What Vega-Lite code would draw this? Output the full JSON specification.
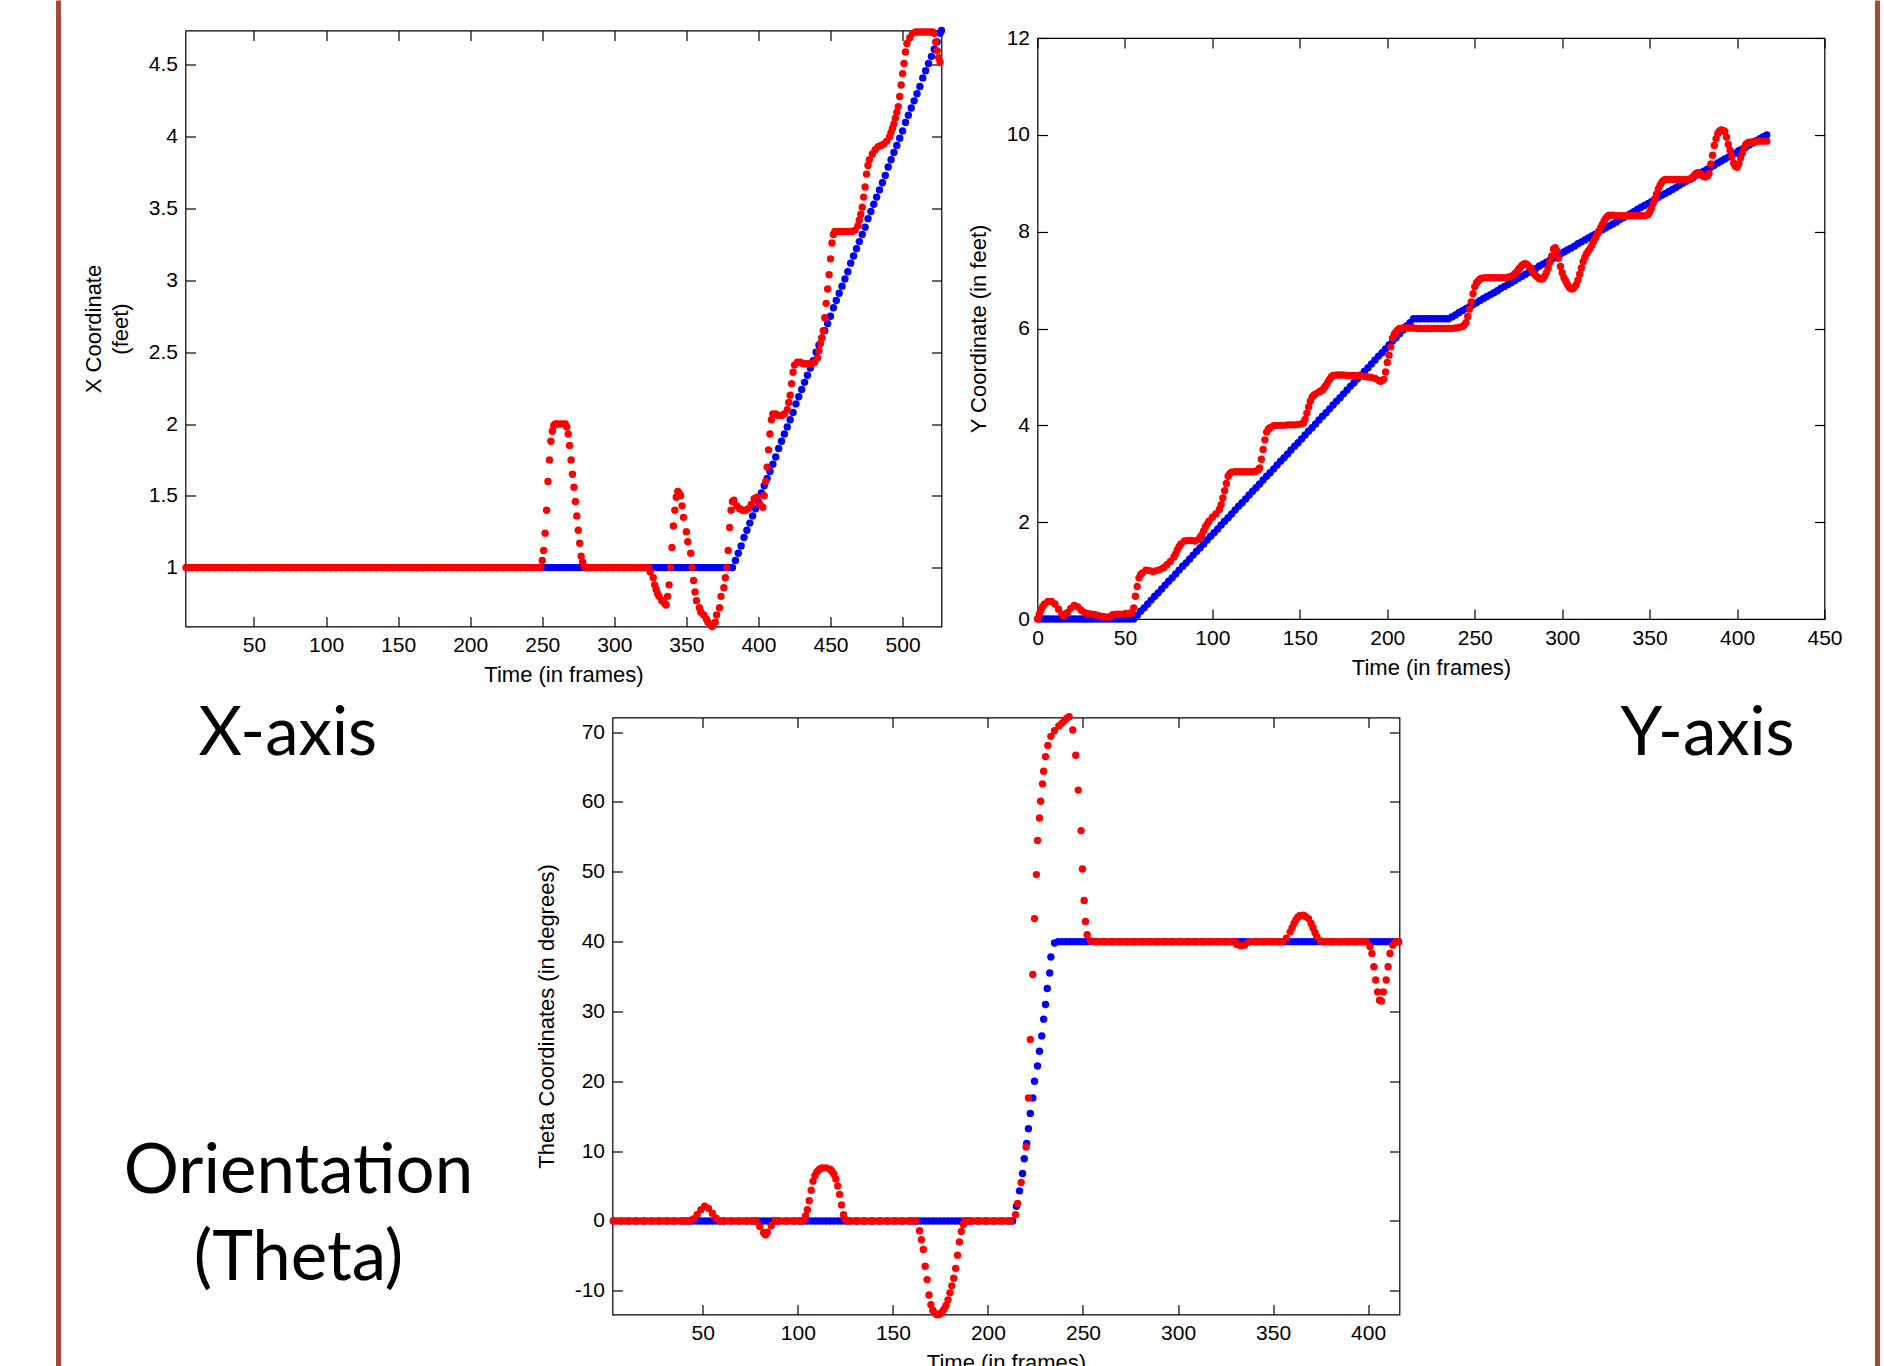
{
"$schema":"https://vega.github.io/schema/vega-lite/v6.json",
"background":"white",
"padding":{"left":55.5,"top":-2.5,"right":0,"bottom":0},
"autosize":{"type":"pad"},
"spacing":0,
"bounds":"full",
"config":{
 "view":{"stroke":"#000000","strokeWidth":1.2},
 "axis":{"domain":false,"grid":false,"tickSize":-10,"tickColor":"#000000","tickWidth":1.2,"labelFont":"Liberation Sans","labelFontSize":21,"labelColor":"#000000","labelPadding":18,"labelFlush":false,"labelOverlap":false,"titleFont":"Liberation Sans","titleFontSize":22,"titleFontWeight":"normal","titleColor":"#000000"},
 "axisX":{"titlePadding":9},
 "axisY":{"titlePadding":16,"minExtent":0},
 "title":{"font":"Lato","fontSize":67,"fontWeight":"normal","color":"#000000"}
},
"datasets":{
"xb":[{"t":3,"v":1},{"t":7,"v":1},{"t":11,"v":1},{"t":15,"v":1},{"t":19,"v":1},{"t":23,"v":1},{"t":27,"v":1},{"t":31,"v":1},{"t":35,"v":1},{"t":39,"v":1},{"t":43,"v":1},{"t":47,"v":1},{"t":51,"v":1},{"t":55,"v":1},{"t":59,"v":1},{"t":63,"v":1},{"t":67,"v":1},{"t":71,"v":1},{"t":75,"v":1},{"t":79,"v":1},{"t":83,"v":1},{"t":87,"v":1},{"t":91,"v":1},{"t":95,"v":1},{"t":99,"v":1},{"t":103,"v":1},{"t":107,"v":1},{"t":111,"v":1},{"t":115,"v":1},{"t":119,"v":1},{"t":123,"v":1},{"t":127,"v":1},{"t":131,"v":1},{"t":135,"v":1},{"t":139,"v":1},{"t":143,"v":1},{"t":147,"v":1},{"t":151,"v":1},{"t":155,"v":1},{"t":159,"v":1},{"t":163,"v":1},{"t":167,"v":1},{"t":171,"v":1},{"t":175,"v":1},{"t":179,"v":1},{"t":183,"v":1},{"t":187,"v":1},{"t":191,"v":1},{"t":195,"v":1},{"t":199,"v":1},{"t":203,"v":1},{"t":207,"v":1},{"t":211,"v":1},{"t":215,"v":1},{"t":219,"v":1},{"t":223,"v":1},{"t":227,"v":1},{"t":231,"v":1},{"t":235,"v":1},{"t":239,"v":1},{"t":243,"v":1},{"t":247,"v":1},
{"t":249,"v":1},{"t":251,"v":1},{"t":253,"v":1},{"t":255,"v":1},{"t":257,"v":1},{"t":259,"v":1},{"t":261,"v":1},{"t":263,"v":1},{"t":265,"v":1},{"t":267,"v":1},{"t":269,"v":1},{"t":271,"v":1},{"t":273,"v":1},{"t":275,"v":1},{"t":277,"v":1},{"t":279,"v":1},{"t":281,"v":1},{"t":283,"v":1},
{"t":287,"v":1},{"t":291,"v":1},{"t":295,"v":1},{"t":299,"v":1},{"t":303,"v":1},{"t":307,"v":1},{"t":311,"v":1},{"t":315,"v":1},{"t":319,"v":1},
{"t":321,"v":1},{"t":323,"v":1},{"t":325,"v":1},{"t":327,"v":1},{"t":329,"v":1},{"t":331,"v":1},{"t":333,"v":1},{"t":335,"v":1},{"t":337,"v":1},{"t":339,"v":1},{"t":341,"v":1},{"t":343,"v":1},{"t":345,"v":1},{"t":347,"v":1},{"t":349,"v":1},{"t":351,"v":1},{"t":353,"v":1},{"t":355,"v":1},{"t":357,"v":1},{"t":359,"v":1},{"t":361,"v":1},{"t":363,"v":1},{"t":365,"v":1},{"t":367,"v":1},{"t":369,"v":1},{"t":371,"v":1},{"t":373,"v":1},{"t":375,"v":1},{"t":377,"v":1},{"t":379,"v":1},{"t":381,"v":1},{"t":382,"v":1},
{"t":384,"v":1.05},{"t":386,"v":1.10},{"t":388,"v":1.15},{"t":390,"v":1.21},{"t":392,"v":1.26},{"t":394,"v":1.31},{"t":396,"v":1.36},{"t":398,"v":1.41},{"t":400,"v":1.46},{"t":402,"v":1.52},{"t":404,"v":1.57},{"t":406,"v":1.62},{"t":408,"v":1.67},{"t":410,"v":1.72},{"t":412,"v":1.77},{"t":414,"v":1.83},{"t":416,"v":1.88},{"t":418,"v":1.93},{"t":420,"v":1.98},{"t":422,"v":2.03},{"t":424,"v":2.08},{"t":426,"v":2.14},{"t":428,"v":2.19},{"t":430,"v":2.24},{"t":432,"v":2.29},{"t":434,"v":2.34},{"t":436,"v":2.39},{"t":438,"v":2.44},{"t":440,"v":2.50},{"t":442,"v":2.55},{"t":444,"v":2.60},{"t":446,"v":2.65},{"t":448,"v":2.70},{"t":450,"v":2.75},{"t":452,"v":2.81},{"t":454,"v":2.86},{"t":456,"v":2.91},{"t":458,"v":2.96},{"t":460,"v":3.01},{"t":462,"v":3.06},{"t":464,"v":3.12},{"t":466,"v":3.17},{"t":468,"v":3.22},{"t":470,"v":3.27},{"t":472,"v":3.32},{"t":474,"v":3.37},{"t":476,"v":3.43},{"t":478,"v":3.48},{"t":480,"v":3.53},{"t":482,"v":3.58},{"t":484,"v":3.63},{"t":486,"v":3.68},{"t":488,"v":3.73},{"t":490,"v":3.79},{"t":492,"v":3.84},{"t":494,"v":3.89},{"t":496,"v":3.94},{"t":498,"v":3.99},{"t":500,"v":4.04},{"t":502,"v":4.10},{"t":504,"v":4.15},{"t":506,"v":4.20},{"t":508,"v":4.25},{"t":510,"v":4.30},{"t":512,"v":4.35},{"t":514,"v":4.41},{"t":516,"v":4.46},{"t":518,"v":4.51},{"t":520,"v":4.56},{"t":522,"v":4.61},{"t":524,"v":4.66},{"t":526,"v":4.72},{"t":527,"v":4.74}],
"xr":[{"t":3,"v":1},{"t":5,"v":1},{"t":7,"v":1},{"t":9,"v":1},{"t":11,"v":1},{"t":13,"v":1},{"t":15,"v":1},{"t":17,"v":1},{"t":19,"v":1},{"t":21,"v":1},{"t":23,"v":1},{"t":25,"v":1},{"t":27,"v":1},{"t":29,"v":1},{"t":31,"v":1},{"t":33,"v":1},{"t":35,"v":1},{"t":37,"v":1},{"t":39,"v":1},{"t":41,"v":1},{"t":43,"v":1},{"t":45,"v":1},{"t":47,"v":1},{"t":49,"v":1},{"t":51,"v":1},{"t":53,"v":1},{"t":55,"v":1},{"t":57,"v":1},{"t":59,"v":1},{"t":61,"v":1},{"t":63,"v":1},{"t":65,"v":1},{"t":67,"v":1},{"t":69,"v":1},{"t":71,"v":1},{"t":73,"v":1},{"t":75,"v":1},{"t":77,"v":1},{"t":79,"v":1},{"t":81,"v":1},{"t":83,"v":1},{"t":85,"v":1},{"t":87,"v":1},{"t":89,"v":1},{"t":91,"v":1},{"t":93,"v":1},{"t":95,"v":1},{"t":97,"v":1},{"t":99,"v":1},{"t":101,"v":1},{"t":103,"v":1},{"t":105,"v":1},{"t":107,"v":1},{"t":109,"v":1},{"t":111,"v":1},{"t":113,"v":1},{"t":115,"v":1},{"t":117,"v":1},{"t":119,"v":1},{"t":121,"v":1},{"t":123,"v":1},{"t":125,"v":1},{"t":127,"v":1},{"t":129,"v":1},{"t":131,"v":1},{"t":133,"v":1},{"t":135,"v":1},{"t":137,"v":1},{"t":139,"v":1},{"t":141,"v":1},{"t":143,"v":1},{"t":145,"v":1},{"t":147,"v":1},{"t":149,"v":1},{"t":151,"v":1},{"t":153,"v":1},{"t":155,"v":1},{"t":157,"v":1},{"t":159,"v":1},{"t":161,"v":1},{"t":163,"v":1},{"t":165,"v":1},{"t":167,"v":1},{"t":169,"v":1},{"t":171,"v":1},{"t":173,"v":1},{"t":175,"v":1},{"t":177,"v":1},{"t":179,"v":1},{"t":181,"v":1},{"t":183,"v":1},{"t":185,"v":1},{"t":187,"v":1},{"t":189,"v":1},{"t":191,"v":1},{"t":193,"v":1},{"t":195,"v":1},{"t":197,"v":1},{"t":199,"v":1},{"t":201,"v":1},{"t":203,"v":1},{"t":205,"v":1},{"t":207,"v":1},{"t":209,"v":1},{"t":211,"v":1},{"t":213,"v":1},{"t":215,"v":1},{"t":217,"v":1},{"t":219,"v":1},{"t":221,"v":1},{"t":223,"v":1},{"t":225,"v":1},{"t":227,"v":1},{"t":229,"v":1},{"t":231,"v":1},{"t":233,"v":1},{"t":235,"v":1},{"t":237,"v":1},{"t":239,"v":1},{"t":241,"v":1},{"t":243,"v":1},{"t":245,"v":1},{"t":247,"v":1},{"t":249,"v":1},
{"t":250,"v":1.05},{"t":251,"v":1.12},{"t":252,"v":1.24},{"t":253,"v":1.40},{"t":254,"v":1.60},{"t":255,"v":1.75},{"t":256,"v":1.88},{"t":257,"v":1.95},{"t":258,"v":1.99},{"t":259,"v":2.0},{"t":260,"v":2.0},{"t":262,"v":2.0},{"t":264,"v":2.0},{"t":266,"v":2.0},{"t":267,"v":1.98},{"t":268,"v":1.93},{"t":269,"v":1.85},{"t":270,"v":1.75},{"t":271,"v":1.65},{"t":272,"v":1.56},{"t":273,"v":1.46},{"t":274,"v":1.36},{"t":275,"v":1.26},{"t":276,"v":1.17},{"t":277,"v":1.08},{"t":278,"v":1.04},{"t":279,"v":1.01},{"t":280,"v":1.0},
{"t":282,"v":1},{"t":284,"v":1},{"t":286,"v":1},{"t":288,"v":1},{"t":290,"v":1},{"t":292,"v":1},{"t":294,"v":1},{"t":296,"v":1},{"t":298,"v":1},{"t":300,"v":1},{"t":302,"v":1},{"t":304,"v":1},{"t":306,"v":1},{"t":308,"v":1},{"t":310,"v":1},{"t":312,"v":1},{"t":314,"v":1},{"t":316,"v":1},{"t":318,"v":1},{"t":320,"v":1},{"t":322,"v":1},
{"t":324,"v":1.0},{"t":325,"v":0.97},{"t":327,"v":0.93},{"t":328,"v":0.88},{"t":329,"v":0.85},{"t":330,"v":0.82},{"t":331,"v":0.80},{"t":333,"v":0.77},{"t":335,"v":0.75},{"t":336,"v":0.74},{"t":337,"v":0.80},{"t":338,"v":0.88},{"t":339,"v":1.0},{"t":340,"v":1.14},{"t":341,"v":1.29},{"t":342,"v":1.40},{"t":343,"v":1.49},{"t":344,"v":1.53},{"t":345,"v":1.52},{"t":346,"v":1.50},{"t":347,"v":1.43},{"t":348,"v":1.35},{"t":350,"v":1.25},{"t":351,"v":1.18},{"t":353,"v":1.10},{"t":354,"v":1.0},{"t":355,"v":0.91},{"t":356,"v":0.83},{"t":357,"v":0.77},{"t":359,"v":0.72},{"t":360,"v":0.69},{"t":362,"v":0.67},{"t":364,"v":0.64},{"t":365,"v":0.62},{"t":367,"v":0.60},{"t":368,"v":0.59},{"t":370,"v":0.62},{"t":371,"v":0.67},{"t":373,"v":0.72},{"t":374,"v":0.80},{"t":376,"v":0.86},{"t":377,"v":0.93},{"t":378,"v":1.0},{"t":379,"v":1.12},{"t":380,"v":1.28},{"t":381,"v":1.40},{"t":382,"v":1.46},{"t":383,"v":1.47},{"t":385,"v":1.43},{"t":387,"v":1.41},{"t":389,"v":1.40},{"t":391,"v":1.40},{"t":393,"v":1.41},{"t":395,"v":1.44},{"t":397,"v":1.48},{"t":399,"v":1.49},{"t":401,"v":1.44},{"t":403,"v":1.42},{"t":404,"v":1.50},{"t":405,"v":1.60},{"t":406,"v":1.70},{"t":407,"v":1.82},{"t":408,"v":1.93},{"t":409,"v":2.03},{"t":410,"v":2.07},{"t":412,"v":2.07},{"t":414,"v":2.06},{"t":416,"v":2.06},{"t":418,"v":2.07},{"t":420,"v":2.10},{"t":421,"v":2.15},{"t":422,"v":2.20},{"t":423,"v":2.28},{"t":424,"v":2.36},{"t":425,"v":2.41},{"t":427,"v":2.43},{"t":429,"v":2.43},{"t":431,"v":2.42},{"t":433,"v":2.42},{"t":435,"v":2.42},{"t":437,"v":2.42},{"t":439,"v":2.43},{"t":441,"v":2.46},{"t":442,"v":2.51},{"t":443,"v":2.56},{"t":444,"v":2.60},{"t":445,"v":2.65},{"t":446,"v":2.74},{"t":447,"v":2.84},{"t":448,"v":2.94},{"t":449,"v":3.04},{"t":450,"v":3.15},{"t":451,"v":3.26},{"t":452,"v":3.32},{"t":453,"v":3.34},{"t":455,"v":3.34},{"t":457,"v":3.34},{"t":459,"v":3.34},{"t":461,"v":3.34},{"t":463,"v":3.34},{"t":465,"v":3.34},{"t":467,"v":3.35},{"t":469,"v":3.38},{"t":470,"v":3.42},{"t":471,"v":3.46},{"t":472,"v":3.51},{"t":473,"v":3.58},{"t":474,"v":3.65},{"t":475,"v":3.74},{"t":476,"v":3.80},{"t":477,"v":3.84},{"t":479,"v":3.88},{"t":481,"v":3.91},{"t":483,"v":3.93},{"t":485,"v":3.94},{"t":487,"v":3.95},{"t":489,"v":3.97},{"t":491,"v":4.00},{"t":492,"v":4.03},{"t":493,"v":4.06},{"t":494,"v":4.09},{"t":495,"v":4.13},{"t":496,"v":4.17},{"t":497,"v":4.21},{"t":498,"v":4.28},{"t":499,"v":4.36},{"t":500,"v":4.44},{"t":501,"v":4.51},{"t":502,"v":4.59},{"t":503,"v":4.65},{"t":505,"v":4.69},{"t":507,"v":4.72},{"t":509,"v":4.73},{"t":511,"v":4.73},{"t":513,"v":4.73},{"t":515,"v":4.73},{"t":517,"v":4.73},{"t":519,"v":4.73},{"t":521,"v":4.73},{"t":522,"v":4.72},{"t":523,"v":4.66},{"t":524,"v":4.60},{"t":525,"v":4.55},{"t":526,"v":4.52}],
"yb":[{"t":1,"v":0},{"t":3,"v":0},{"t":5,"v":0},{"t":7,"v":0},{"t":9,"v":0},{"t":11,"v":0},{"t":13,"v":0},{"t":15,"v":0},{"t":17,"v":0},{"t":19,"v":0},{"t":21,"v":0},{"t":23,"v":0},{"t":25,"v":0},{"t":27,"v":0},{"t":29,"v":0},{"t":31,"v":0},{"t":33,"v":0},{"t":35,"v":0},{"t":37,"v":0},{"t":39,"v":0},{"t":41,"v":0},{"t":43,"v":0},{"t":45,"v":0},{"t":47,"v":0},{"t":49,"v":0},{"t":51,"v":0},{"t":53,"v":0},
{"t":55,"v":0},{"t":57,"v":0.08},{"t":59,"v":0.16},{"t":61,"v":0.23},{"t":63,"v":0.31},{"t":65,"v":0.39},{"t":67,"v":0.47},{"t":69,"v":0.54},{"t":71,"v":0.62},{"t":73,"v":0.70},{"t":75,"v":0.78},{"t":77,"v":0.85},{"t":79,"v":0.93},{"t":81,"v":1.01},{"t":83,"v":1.09},{"t":85,"v":1.16},{"t":87,"v":1.24},{"t":89,"v":1.32},{"t":91,"v":1.40},{"t":93,"v":1.47},{"t":95,"v":1.55},{"t":97,"v":1.63},{"t":99,"v":1.71},{"t":101,"v":1.78},{"t":103,"v":1.86},{"t":105,"v":1.94},{"t":107,"v":2.02},{"t":109,"v":2.09},{"t":111,"v":2.17},{"t":113,"v":2.25},{"t":115,"v":2.33},{"t":117,"v":2.40},{"t":119,"v":2.48},{"t":121,"v":2.56},{"t":123,"v":2.64},{"t":125,"v":2.71},{"t":127,"v":2.79},{"t":129,"v":2.87},{"t":131,"v":2.95},{"t":133,"v":3.02},{"t":135,"v":3.10},{"t":137,"v":3.18},{"t":139,"v":3.26},{"t":141,"v":3.33},{"t":143,"v":3.41},{"t":145,"v":3.49},{"t":147,"v":3.57},{"t":149,"v":3.64},{"t":151,"v":3.72},{"t":153,"v":3.80},{"t":155,"v":3.88},{"t":157,"v":3.95},{"t":159,"v":4.03},{"t":161,"v":4.11},{"t":163,"v":4.19},{"t":165,"v":4.26},{"t":167,"v":4.34},{"t":169,"v":4.42},{"t":171,"v":4.50},{"t":173,"v":4.57},{"t":175,"v":4.65},{"t":177,"v":4.73},{"t":179,"v":4.81},{"t":181,"v":4.88},{"t":183,"v":4.96},{"t":185,"v":5.04},{"t":187,"v":5.12},{"t":189,"v":5.19},{"t":191,"v":5.27},{"t":193,"v":5.35},{"t":195,"v":5.43},{"t":197,"v":5.50},{"t":199,"v":5.58},{"t":201,"v":5.66},{"t":203,"v":5.74},{"t":205,"v":5.81},{"t":207,"v":5.89},{"t":209,"v":5.97},{"t":211,"v":6.05},{"t":213,"v":6.12},{"t":215,"v":6.20},
{"t":217,"v":6.2},{"t":219,"v":6.2},{"t":221,"v":6.2},{"t":223,"v":6.2},{"t":225,"v":6.2},{"t":227,"v":6.2},{"t":229,"v":6.2},{"t":231,"v":6.2},{"t":233,"v":6.2},{"t":235,"v":6.2},
{"t":237,"v":6.24},{"t":239,"v":6.28},{"t":241,"v":6.33},{"t":243,"v":6.37},{"t":245,"v":6.41},{"t":247,"v":6.45},{"t":249,"v":6.49},{"t":251,"v":6.53},{"t":253,"v":6.58},{"t":255,"v":6.62},{"t":257,"v":6.66},{"t":259,"v":6.70},{"t":261,"v":6.74},{"t":263,"v":6.78},{"t":265,"v":6.83},{"t":267,"v":6.87},{"t":269,"v":6.91},{"t":271,"v":6.95},{"t":273,"v":6.99},{"t":275,"v":7.04},{"t":277,"v":7.08},{"t":279,"v":7.12},{"t":281,"v":7.16},{"t":283,"v":7.20},{"t":285,"v":7.24},{"t":287,"v":7.29},{"t":289,"v":7.33},{"t":291,"v":7.37},{"t":293,"v":7.41},{"t":295,"v":7.45},{"t":297,"v":7.49},{"t":299,"v":7.54},{"t":301,"v":7.58},{"t":303,"v":7.62},{"t":305,"v":7.66},{"t":307,"v":7.70},{"t":309,"v":7.75},{"t":311,"v":7.79},{"t":313,"v":7.83},{"t":315,"v":7.87},{"t":317,"v":7.91},{"t":319,"v":7.95},{"t":321,"v":8.00},{"t":323,"v":8.04},{"t":325,"v":8.08},{"t":327,"v":8.12},{"t":329,"v":8.16},{"t":331,"v":8.20},{"t":333,"v":8.25},{"t":335,"v":8.29},{"t":337,"v":8.33},{"t":339,"v":8.37},{"t":341,"v":8.41},{"t":343,"v":8.46},{"t":345,"v":8.50},{"t":347,"v":8.54},{"t":349,"v":8.58},{"t":351,"v":8.62},{"t":353,"v":8.66},{"t":355,"v":8.71},{"t":357,"v":8.75},{"t":359,"v":8.79},{"t":361,"v":8.83},{"t":363,"v":8.87},{"t":365,"v":8.91},{"t":367,"v":8.96},{"t":369,"v":9.00},{"t":371,"v":9.04},{"t":373,"v":9.08},{"t":375,"v":9.12},{"t":377,"v":9.17},{"t":379,"v":9.21},{"t":381,"v":9.25},{"t":383,"v":9.29},{"t":385,"v":9.33},{"t":387,"v":9.37},{"t":389,"v":9.42},{"t":391,"v":9.46},{"t":393,"v":9.50},{"t":395,"v":9.54},{"t":397,"v":9.58},{"t":399,"v":9.62},{"t":401,"v":9.67},{"t":403,"v":9.71},{"t":405,"v":9.75},{"t":407,"v":9.79},{"t":409,"v":9.83},{"t":411,"v":9.88},{"t":413,"v":9.92},{"t":415,"v":9.96},{"t":417,"v":10.00}],
"yr":[{"t":0,"v":0.0},{"t":1,"v":0.10},{"t":2,"v":0.19},{"t":3,"v":0.26},{"t":4,"v":0.31},{"t":6,"v":0.36},{"t":8,"v":0.36},{"t":10,"v":0.31},{"t":12,"v":0.20},{"t":14,"v":0.10},{"t":15,"v":0.06},{"t":17,"v":0.13},{"t":19,"v":0.22},{"t":21,"v":0.28},{"t":23,"v":0.25},{"t":25,"v":0.18},{"t":27,"v":0.13},{"t":29,"v":0.11},{"t":31,"v":0.10},{"t":33,"v":0.09},{"t":35,"v":0.07},{"t":37,"v":0.05},{"t":39,"v":0.04},{"t":41,"v":0.04},{"t":43,"v":0.09},{"t":45,"v":0.10},{"t":47,"v":0.10},{"t":49,"v":0.10},{"t":51,"v":0.11},{"t":53,"v":0.12},{"t":54,"v":0.13},{"t":55,"v":0.23},{"t":56,"v":0.47},{"t":57,"v":0.67},{"t":58,"v":0.85},{"t":59,"v":0.92},{"t":60,"v":0.95},{"t":62,"v":1.01},{"t":64,"v":1.00},{"t":66,"v":0.98},{"t":68,"v":1.00},{"t":70,"v":1.02},{"t":72,"v":1.06},{"t":74,"v":1.12},{"t":76,"v":1.19},{"t":78,"v":1.28},{"t":79,"v":1.35},{"t":80,"v":1.43},{"t":81,"v":1.50},{"t":82,"v":1.55},{"t":84,"v":1.61},{"t":86,"v":1.62},{"t":88,"v":1.62},{"t":90,"v":1.61},{"t":92,"v":1.64},{"t":93,"v":1.69},{"t":94,"v":1.74},{"t":95,"v":1.82},{"t":96,"v":1.90},{"t":97,"v":1.96},{"t":98,"v":2.02},{"t":100,"v":2.10},{"t":102,"v":2.17},{"t":104,"v":2.26},{"t":105,"v":2.36},{"t":106,"v":2.50},{"t":107,"v":2.65},{"t":108,"v":2.80},{"t":109,"v":2.95},{"t":110,"v":3.00},{"t":111,"v":3.03},{"t":113,"v":3.04},{"t":115,"v":3.04},{"t":117,"v":3.04},{"t":119,"v":3.04},{"t":121,"v":3.04},{"t":123,"v":3.04},{"t":125,"v":3.05},{"t":126,"v":3.07},{"t":127,"v":3.12},{"t":128,"v":3.30},{"t":129,"v":3.50},{"t":130,"v":3.70},{"t":131,"v":3.86},{"t":132,"v":3.92},{"t":133,"v":3.95},{"t":135,"v":3.99},{"t":137,"v":4.00},{"t":139,"v":4.00},{"t":141,"v":4.00},{"t":143,"v":4.01},{"t":145,"v":4.01},{"t":147,"v":4.01},{"t":149,"v":4.02},{"t":151,"v":4.03},{"t":152,"v":4.05},{"t":153,"v":4.12},{"t":154,"v":4.25},{"t":155,"v":4.38},{"t":156,"v":4.50},{"t":157,"v":4.58},{"t":158,"v":4.62},{"t":159,"v":4.65},{"t":161,"v":4.69},{"t":162,"v":4.71},{"t":163,"v":4.73},{"t":164,"v":4.78},{"t":165,"v":4.83},{"t":166,"v":4.89},{"t":167,"v":4.95},{"t":168,"v":5.00},{"t":169,"v":5.03},{"t":171,"v":5.04},{"t":173,"v":5.04},{"t":175,"v":5.04},{"t":177,"v":5.03},{"t":179,"v":5.03},{"t":181,"v":5.03},{"t":183,"v":5.03},{"t":185,"v":5.02},{"t":187,"v":5.01},{"t":189,"v":5.00},{"t":191,"v":4.99},{"t":193,"v":4.97},{"t":195,"v":4.93},{"t":196,"v":4.91},{"t":197,"v":4.92},{"t":198,"v":4.95},{"t":199,"v":5.10},{"t":200,"v":5.30},{"t":201,"v":5.45},{"t":202,"v":5.62},{"t":203,"v":5.80},{"t":204,"v":5.88},{"t":205,"v":5.93},{"t":206,"v":5.97},{"t":207,"v":6.00},{"t":209,"v":6.01},{"t":211,"v":6.01},{"t":213,"v":6.01},{"t":215,"v":6.01},{"t":217,"v":6.00},{"t":219,"v":6.00},{"t":221,"v":6.00},{"t":223,"v":6.00},{"t":225,"v":6.00},{"t":227,"v":6.00},{"t":229,"v":6.00},{"t":231,"v":6.00},{"t":233,"v":6.00},{"t":235,"v":6.00},{"t":237,"v":6.00},{"t":239,"v":6.01},{"t":241,"v":6.02},{"t":243,"v":6.04},{"t":244,"v":6.07},{"t":245,"v":6.12},{"t":246,"v":6.25},{"t":247,"v":6.40},{"t":248,"v":6.55},{"t":249,"v":6.72},{"t":250,"v":6.86},{"t":251,"v":6.94},{"t":252,"v":6.98},{"t":253,"v":7.02},{"t":254,"v":7.04},{"t":256,"v":7.05},{"t":258,"v":7.05},{"t":260,"v":7.05},{"t":262,"v":7.05},{"t":264,"v":7.05},{"t":266,"v":7.05},{"t":268,"v":7.05},{"t":270,"v":7.07},{"t":272,"v":7.10},{"t":273,"v":7.13},{"t":274,"v":7.17},{"t":275,"v":7.22},{"t":276,"v":7.26},{"t":277,"v":7.30},{"t":278,"v":7.33},{"t":279,"v":7.34},{"t":280,"v":7.32},{"t":281,"v":7.28},{"t":282,"v":7.24},{"t":283,"v":7.18},{"t":284,"v":7.13},{"t":285,"v":7.09},{"t":286,"v":7.06},{"t":287,"v":7.03},{"t":288,"v":7.02},{"t":289,"v":7.03},{"t":290,"v":7.08},{"t":291,"v":7.15},{"t":292,"v":7.25},{"t":293,"v":7.37},{"t":294,"v":7.50},{"t":295,"v":7.64},{"t":296,"v":7.67},{"t":297,"v":7.60},{"t":298,"v":7.45},{"t":299,"v":7.28},{"t":300,"v":7.15},{"t":301,"v":7.05},{"t":302,"v":6.98},{"t":303,"v":6.91},{"t":304,"v":6.85},{"t":305,"v":6.82},{"t":306,"v":6.82},{"t":307,"v":6.85},{"t":308,"v":6.90},{"t":309,"v":7.00},{"t":310,"v":7.12},{"t":311,"v":7.25},{"t":312,"v":7.38},{"t":313,"v":7.47},{"t":314,"v":7.55},{"t":315,"v":7.60},{"t":316,"v":7.65},{"t":317,"v":7.72},{"t":318,"v":7.80},{"t":319,"v":7.87},{"t":320,"v":7.94},{"t":321,"v":8.01},{"t":322,"v":8.08},{"t":323,"v":8.15},{"t":324,"v":8.22},{"t":325,"v":8.28},{"t":326,"v":8.32},{"t":327,"v":8.34},{"t":329,"v":8.34},{"t":331,"v":8.33},{"t":333,"v":8.33},{"t":335,"v":8.33},{"t":337,"v":8.33},{"t":339,"v":8.33},{"t":341,"v":8.33},{"t":343,"v":8.33},{"t":345,"v":8.33},{"t":347,"v":8.33},{"t":349,"v":8.35},{"t":350,"v":8.40},{"t":351,"v":8.48},{"t":352,"v":8.58},{"t":353,"v":8.68},{"t":354,"v":8.78},{"t":355,"v":8.88},{"t":356,"v":8.96},{"t":357,"v":9.02},{"t":358,"v":9.06},{"t":359,"v":9.08},{"t":361,"v":9.08},{"t":363,"v":9.08},{"t":365,"v":9.08},{"t":367,"v":9.08},{"t":369,"v":9.08},{"t":371,"v":9.08},{"t":373,"v":9.09},{"t":374,"v":9.10},{"t":375,"v":9.14},{"t":376,"v":9.18},{"t":377,"v":9.21},{"t":378,"v":9.22},{"t":379,"v":9.19},{"t":380,"v":9.16},{"t":381,"v":9.14},{"t":382,"v":9.13},{"t":383,"v":9.15},{"t":384,"v":9.20},{"t":385,"v":9.40},{"t":386,"v":9.58},{"t":387,"v":9.78},{"t":388,"v":9.92},{"t":389,"v":10.03},{"t":390,"v":10.08},{"t":391,"v":10.10},{"t":392,"v":10.09},{"t":393,"v":10.07},{"t":394,"v":9.95},{"t":395,"v":9.80},{"t":396,"v":9.68},{"t":397,"v":9.55},{"t":398,"v":9.42},{"t":399,"v":9.35},{"t":400,"v":9.33},{"t":401,"v":9.40},{"t":402,"v":9.52},{"t":403,"v":9.62},{"t":404,"v":9.72},{"t":405,"v":9.80},{"t":406,"v":9.83},{"t":407,"v":9.85},{"t":409,"v":9.86},{"t":411,"v":9.86},{"t":413,"v":9.87},{"t":415,"v":9.87},{"t":417,"v":9.87}],
"tb":[{"t":3,"v":0},{"t":7,"v":0},{"t":11,"v":0},{"t":15,"v":0},{"t":19,"v":0},{"t":23,"v":0},{"t":27,"v":0},{"t":31,"v":0},{"t":35,"v":0},{"t":39,"v":0},{"t":41,"v":0},{"t":43,"v":0},{"t":45,"v":0},{"t":47,"v":0},{"t":49,"v":0},{"t":51,"v":0},{"t":53,"v":0},{"t":55,"v":0},{"t":57,"v":0},{"t":59,"v":0},{"t":61,"v":0},{"t":65,"v":0},{"t":69,"v":0},{"t":73,"v":0},{"t":76,"v":0},{"t":78,"v":0},{"t":80,"v":0},{"t":82,"v":0},{"t":84,"v":0},{"t":86,"v":0},{"t":88,"v":0},{"t":90,"v":0},{"t":94,"v":0},{"t":98,"v":0},{"t":101,"v":0},{"t":103,"v":0},{"t":105,"v":0},{"t":107,"v":0},{"t":109,"v":0},{"t":111,"v":0},{"t":113,"v":0},{"t":115,"v":0},{"t":117,"v":0},{"t":119,"v":0},{"t":121,"v":0},{"t":123,"v":0},{"t":125,"v":0},{"t":127,"v":0},{"t":131,"v":0},{"t":135,"v":0},{"t":139,"v":0},{"t":143,"v":0},{"t":147,"v":0},{"t":151,"v":0},{"t":155,"v":0},{"t":159,"v":0},{"t":161,"v":0},{"t":163,"v":0},{"t":165,"v":0},{"t":167,"v":0},{"t":169,"v":0},{"t":171,"v":0},{"t":173,"v":0},{"t":175,"v":0},{"t":177,"v":0},{"t":179,"v":0},{"t":181,"v":0},{"t":183,"v":0},{"t":185,"v":0},{"t":187,"v":0},{"t":189,"v":0},{"t":191,"v":0},{"t":195,"v":0},{"t":199,"v":0},{"t":203,"v":0},{"t":207,"v":0},{"t":211,"v":0},{"t":213,"v":0},
{"t":215,"v":2.1},{"t":216.6,"v":4.3},{"t":218.2,"v":6.8},{"t":219.1,"v":8.9},{"t":220.4,"v":11.1},{"t":221.3,"v":13.2},{"t":222.3,"v":15.4},{"t":223.6,"v":17.6},{"t":224.5,"v":20.0},{"t":226.1,"v":22.2},{"t":227.1,"v":24.3},{"t":228.3,"v":26.5},{"t":229.3,"v":28.9},{"t":230.3,"v":31.0},{"t":231.2,"v":33.3},{"t":232.5,"v":35.5},{"t":233.1,"v":37.8},{"t":235,"v":39.8},
{"t":237,"v":40},{"t":239,"v":40},{"t":241,"v":40},{"t":243,"v":40},{"t":245,"v":40},{"t":247,"v":40},{"t":249,"v":40},{"t":251,"v":40},{"t":253,"v":40},{"t":257,"v":40},{"t":261,"v":40},{"t":265,"v":40},{"t":269,"v":40},{"t":273,"v":40},{"t":277,"v":40},{"t":281,"v":40},{"t":285,"v":40},{"t":289,"v":40},{"t":293,"v":40},{"t":297,"v":40},{"t":301,"v":40},{"t":305,"v":40},{"t":309,"v":40},{"t":313,"v":40},{"t":317,"v":40},{"t":321,"v":40},{"t":325,"v":40},{"t":329,"v":40},{"t":331,"v":40},{"t":333,"v":40},{"t":335,"v":40},{"t":337,"v":40},{"t":341,"v":40},{"t":345,"v":40},{"t":349,"v":40},{"t":353,"v":40},{"t":355,"v":40},{"t":357,"v":40},{"t":359,"v":40},{"t":361,"v":40},{"t":363,"v":40},{"t":365,"v":40},{"t":367,"v":40},{"t":369,"v":40},{"t":371,"v":40},{"t":373,"v":40},{"t":375,"v":40},{"t":377,"v":40},{"t":381,"v":40},{"t":385,"v":40},{"t":389,"v":40},{"t":393,"v":40},{"t":397,"v":40},{"t":399,"v":40},{"t":401,"v":40},{"t":403,"v":40},{"t":405,"v":40},{"t":407,"v":40},{"t":409,"v":40},{"t":411,"v":40},{"t":413,"v":40},{"t":415,"v":40},{"t":416,"v":40}],
"tr":[{"t":3,"v":0},{"t":5,"v":0},{"t":7,"v":0},{"t":9,"v":0},{"t":11,"v":0},{"t":13,"v":0},{"t":15,"v":0},{"t":17,"v":0},{"t":19,"v":0},{"t":21,"v":0},{"t":23,"v":0},{"t":25,"v":0},{"t":27,"v":0},{"t":29,"v":0},{"t":31,"v":0},{"t":33,"v":0},{"t":35,"v":0},{"t":37,"v":0},{"t":39,"v":0},{"t":41,"v":0},
{"t":43,"v":0.0},{"t":45,"v":0.3},{"t":47,"v":0.9},{"t":49,"v":1.6},{"t":51,"v":2.1},{"t":53,"v":1.8},{"t":55,"v":1.1},{"t":57,"v":0.4},{"t":59,"v":0.0},
{"t":61,"v":0},{"t":63,"v":0},{"t":65,"v":0},{"t":67,"v":0},{"t":69,"v":0},{"t":71,"v":0},{"t":73,"v":0},{"t":75,"v":0},{"t":77,"v":0},
{"t":78,"v":0.0},{"t":80,"v":-0.8},{"t":82,"v":-1.7},{"t":83,"v":-2.0},{"t":84,"v":-1.6},{"t":86,"v":-0.7},{"t":88,"v":0.0},
{"t":90,"v":0},{"t":92,"v":0},{"t":94,"v":0},{"t":96,"v":0},{"t":98,"v":0},{"t":100,"v":0},{"t":102,"v":0},
{"t":103,"v":0.1},{"t":104,"v":0.7},{"t":105,"v":1.6},{"t":106,"v":2.9},{"t":107,"v":4.4},{"t":108,"v":5.7},{"t":109,"v":6.5},{"t":110,"v":7.0},{"t":111,"v":7.3},{"t":112,"v":7.5},{"t":113,"v":7.6},{"t":115,"v":7.6},{"t":117,"v":7.4},{"t":118,"v":7.1},{"t":119,"v":6.7},{"t":120,"v":6.0},{"t":121,"v":5.0},{"t":122,"v":3.8},{"t":123,"v":2.3},{"t":124,"v":0.9},{"t":125,"v":0.2},{"t":126,"v":0.0},
{"t":128,"v":0},{"t":130,"v":0},{"t":132,"v":0},{"t":134,"v":0},{"t":136,"v":0},{"t":138,"v":0},{"t":140,"v":0},{"t":142,"v":0},{"t":144,"v":0},{"t":146,"v":0},{"t":148,"v":0},{"t":150,"v":0},{"t":152,"v":0},{"t":154,"v":0},{"t":156,"v":0},{"t":158,"v":0},{"t":160,"v":0},{"t":162,"v":0},
{"t":164,"v":-1.4},{"t":165,"v":-2.7},{"t":166,"v":-4.1},{"t":167,"v":-6.5},{"t":168,"v":-8.4},{"t":169,"v":-10.6},{"t":170,"v":-12.0},{"t":171,"v":-12.8},{"t":172,"v":-13.2},{"t":173,"v":-13.4},{"t":174,"v":-13.4},{"t":175,"v":-13.3},{"t":176,"v":-13.0},{"t":177,"v":-12.6},{"t":178,"v":-12.1},{"t":179,"v":-11.3},{"t":180,"v":-10.3},{"t":181,"v":-9.3},{"t":182,"v":-8.2},{"t":183,"v":-6.8},{"t":184,"v":-4.9},{"t":185,"v":-3.0},{"t":186,"v":-1.5},{"t":187,"v":-0.5},{"t":188,"v":0.0},
{"t":190,"v":0},{"t":192,"v":0},{"t":194,"v":0},{"t":196,"v":0},{"t":198,"v":0},{"t":200,"v":0},{"t":202,"v":0},{"t":204,"v":0},{"t":206,"v":0},{"t":208,"v":0},{"t":210,"v":0},{"t":212,"v":0},
{"t":214.5,"v":0.9},{"t":215.6,"v":2.5},{"t":217.5,"v":5.5},{"t":220.1,"v":10.6},{"t":221.3,"v":17.6},{"t":222.3,"v":26.0},{"t":223.6,"v":35.3},{"t":224.5,"v":43.3},{"t":225.5,"v":49.6},{"t":226.1,"v":54.5},{"t":227.1,"v":57.7},{"t":227.7,"v":60.1},{"t":228.7,"v":62.6},{"t":229.3,"v":64.4},{"t":230.3,"v":66.5},{"t":231.5,"v":68.1},{"t":233.1,"v":69.4},{"t":235,"v":70.2},{"t":237.3,"v":70.9},{"t":239,"v":71.3},{"t":240.4,"v":71.7},{"t":241.5,"v":72.0},{"t":242.7,"v":72.2},{"t":244.6,"v":70.3},{"t":246.2,"v":66.7},{"t":247.5,"v":61.7},{"t":249,"v":55.9},{"t":249.7,"v":50.4},{"t":250.6,"v":45.9},{"t":251.3,"v":42.9},{"t":252.2,"v":41.0},{"t":254.1,"v":40.1},
{"t":256,"v":40},{"t":258,"v":40},{"t":260,"v":40},{"t":262,"v":40},{"t":264,"v":40},{"t":266,"v":40},{"t":268,"v":40},{"t":270,"v":40},{"t":272,"v":40},{"t":274,"v":40},{"t":276,"v":40},{"t":278,"v":40},{"t":280,"v":40},{"t":282,"v":40},{"t":284,"v":40},{"t":286,"v":40},{"t":288,"v":40},{"t":290,"v":40},{"t":292,"v":40},{"t":294,"v":40},{"t":296,"v":40},{"t":298,"v":40},{"t":300,"v":40},{"t":302,"v":40},{"t":304,"v":40},{"t":306,"v":40},{"t":308,"v":40},{"t":310,"v":40},{"t":312,"v":40},{"t":314,"v":40},{"t":316,"v":40},{"t":318,"v":40},{"t":320,"v":40},{"t":322,"v":40},{"t":324,"v":40},{"t":326,"v":40},{"t":328,"v":40},{"t":330,"v":40},
{"t":331,"v":39.6},{"t":333,"v":39.4},{"t":335,"v":39.5},{"t":337,"v":39.9},
{"t":339,"v":40},{"t":341,"v":40},{"t":343,"v":40},{"t":345,"v":40},{"t":347,"v":40},{"t":349,"v":40},{"t":351,"v":40},{"t":353,"v":40},{"t":355,"v":40},
{"t":357,"v":40.5},{"t":359,"v":41.4},{"t":360,"v":42.0},{"t":361,"v":42.6},{"t":362,"v":43.1},{"t":363,"v":43.5},{"t":364,"v":43.7},{"t":366,"v":43.8},{"t":367,"v":43.6},{"t":368.6,"v":43.3},{"t":370,"v":42.6},{"t":371,"v":42.0},{"t":372,"v":41.3},{"t":373,"v":40.7},{"t":375,"v":40.1},
{"t":377,"v":40},{"t":379,"v":40},{"t":381,"v":40},{"t":383,"v":40},{"t":385,"v":40},{"t":387,"v":40},{"t":389,"v":40},{"t":391,"v":40},{"t":393,"v":40},{"t":395,"v":40},{"t":397,"v":40},{"t":399,"v":40},
{"t":401,"v":39.3},{"t":402,"v":38.3},{"t":403,"v":36.4},{"t":404,"v":34.5},{"t":405,"v":32.8},{"t":406,"v":31.6},{"t":407,"v":31.5},{"t":408,"v":32.8},{"t":409.5,"v":34.5},{"t":410.5,"v":36.4},{"t":411.5,"v":38.3},{"t":413,"v":39.5},{"t":414.5,"v":40.0},{"t":416,"v":40.0}]
},
"hconcat":[
{"width":3,"height":1400,"view":{"stroke":null},"data":{"values":[{"k":0}]},"mark":{"type":"rule","color":"#A44A3F","strokeWidth":5},"encoding":{"x":{"datum":0,"type":"quantitative","scale":{"domain":[0,1]},"axis":null}}},
{"vconcat":[
 {"hconcat":[
  {"width":124,"height":656,"view":{"stroke":null},"data":{"values":[{"k":0}]},"mark":{"type":"text"},"encoding":{"text":{"value":""}}},
  {"width":756,"height":596,
   "layer":[
    {"data":{"name":"xb"},"mark":{"type":"circle","size":55,"color":"#0000FF","opacity":1},
     "encoding":{"x":{"field":"t","type":"quantitative","scale":{"domain":[2.5,527],"nice":false,"zero":false},"axis":{"orient":"bottom","values":[50,100,150,200,250,300,350,400,450,500],"labelExpr":"datum.value + ''","title":"Time (in frames)"}},
      "y":{"field":"v","type":"quantitative","scale":{"domain":[0.59,4.74],"nice":false,"zero":false},"axis":{"orient":"left","values":[1,1.5,2,2.5,3,3.5,4,4.5],"labelExpr":"datum.value + ''","title":["X Coordinate","(feet)"],"titleLineHeight":27}}}},
    {"data":{"name":"xr"},"mark":{"type":"circle","size":55,"color":"#FF0000","opacity":1},
     "encoding":{"x":{"field":"t","type":"quantitative","scale":{"domain":[2.5,527],"nice":false,"zero":false},"axis":{"orient":"top","values":[50,100,150,200,250,300,350,400,450,500],"labels":false,"title":null}},
      "y":{"field":"v","type":"quantitative","scale":{"domain":[0.59,4.74],"nice":false,"zero":false},"axis":{"orient":"right","values":[1,1.5,2,2.5,3,3.5,4,4.5],"labels":false,"title":null}}}}
   ],
   "resolve":{"axis":{"x":"independent","y":"independent"}}},
  {"width":96,"height":656,"view":{"stroke":null},"data":{"values":[{"k":0}]},"mark":{"type":"text"},"encoding":{"text":{"value":""}}},
  {"width":787,"height":581,
   "layer":[
    {"data":{"name":"yb"},"mark":{"type":"circle","size":55,"color":"#0000FF","opacity":1},
     "encoding":{"x":{"field":"t","type":"quantitative","scale":{"domain":[0,450],"nice":false,"zero":false},"axis":{"orient":"bottom","values":[0,50,100,150,200,250,300,350,400,450],"labelExpr":"datum.value + ''","title":"Time (in frames)"}},
      "y":{"field":"v","type":"quantitative","scale":{"domain":[0,12],"nice":false,"zero":false},"axis":{"orient":"left","values":[0,2,4,6,8,10,12],"labelExpr":"datum.value + ''","title":"Y Coordinate (in feet)"}}}},
    {"data":{"name":"yr"},"mark":{"type":"circle","size":55,"color":"#FF0000","opacity":1},
     "encoding":{"x":{"field":"t","type":"quantitative","scale":{"domain":[0,450],"nice":false,"zero":false},"axis":{"orient":"top","values":[0,50,100,150,200,250,300,350,400,450],"labels":false,"title":null}},
      "y":{"field":"v","type":"quantitative","scale":{"domain":[0,12],"nice":false,"zero":false},"axis":{"orient":"right","values":[0,2,4,6,8,10,12],"labels":false,"title":null}}}}
   ],
   "resolve":{"axis":{"x":"independent","y":"independent"}}}
 ],"spacing":0,"bounds":"flush","center":true},
 {"hconcat":[
  {"width":300,"height":597,"view":{"stroke":null},
   "title":{"text":["Orientation","(Theta)"],"orient":"top","anchor":"start","frame":"group","align":"center","baseline":"alphabetic","dx":237,"offset":-631,"lineHeight":87,"fontSize":69},
   "data":{"values":[{"k":0}]},"mark":{"type":"text"},"encoding":{"text":{"value":""}}},
  {"width":251,"height":597,"view":{"stroke":null},
   "title":{"text":"X-axis","orient":"top","anchor":"start","frame":"group","align":"left","baseline":"alphabetic","dx":-163,"offset":-104},
   "data":{"values":[{"k":0}]},"mark":{"type":"text"},"encoding":{"text":{"value":""}}},
  {"width":787,"height":597,
   "layer":[
    {"data":{"name":"tb"},"mark":{"type":"circle","size":55,"color":"#0000FF","opacity":1},
     "encoding":{"x":{"field":"t","type":"quantitative","scale":{"domain":[2.5,416.5],"nice":false,"zero":false},"axis":{"orient":"bottom","values":[50,100,150,200,250,300,350,400],"labelExpr":"datum.value + ''","title":"Time (in frames)"}},
      "y":{"field":"v","type":"quantitative","scale":{"domain":[-13.4,72.1],"nice":false,"zero":false},"axis":{"orient":"left","values":[-10,0,10,20,30,40,50,60,70],"labelExpr":"datum.value + ''","title":"Theta Coordinates (in degrees)"}}}},
    {"data":{"name":"tr"},"mark":{"type":"circle","size":55,"color":"#FF0000","opacity":1},
     "encoding":{"x":{"field":"t","type":"quantitative","scale":{"domain":[2.5,416.5],"nice":false,"zero":false},"axis":{"orient":"top","values":[50,100,150,200,250,300,350,400],"labels":false,"title":null}},
      "y":{"field":"v","type":"quantitative","scale":{"domain":[-13.4,72.1],"nice":false,"zero":false},"axis":{"orient":"right","values":[-10,0,10,20,30,40,50,60,70],"labels":false,"title":null}}}}
   ],
   "resolve":{"axis":{"x":"independent","y":"independent"}}},
  {"width":100,"height":597,"view":{"stroke":null},
   "title":{"text":"Y-axis","orient":"top","anchor":"start","frame":"group","align":"left","baseline":"alphabetic","dx":221,"offset":-104},
   "data":{"values":[{"k":0}]},"mark":{"type":"text"},"encoding":{"text":{"value":""}}}
 ],"spacing":0,"bounds":"flush"}
],"spacing":14,"bounds":"full"},
{"width":34,"height":1400,"view":{"stroke":null},"data":{"values":[{"k":0}]},"mark":{"type":"rule","color":"#A44A3F","strokeWidth":5},"encoding":{"x":{"datum":1,"type":"quantitative","scale":{"domain":[0,1]},"axis":null}}}
]
}
